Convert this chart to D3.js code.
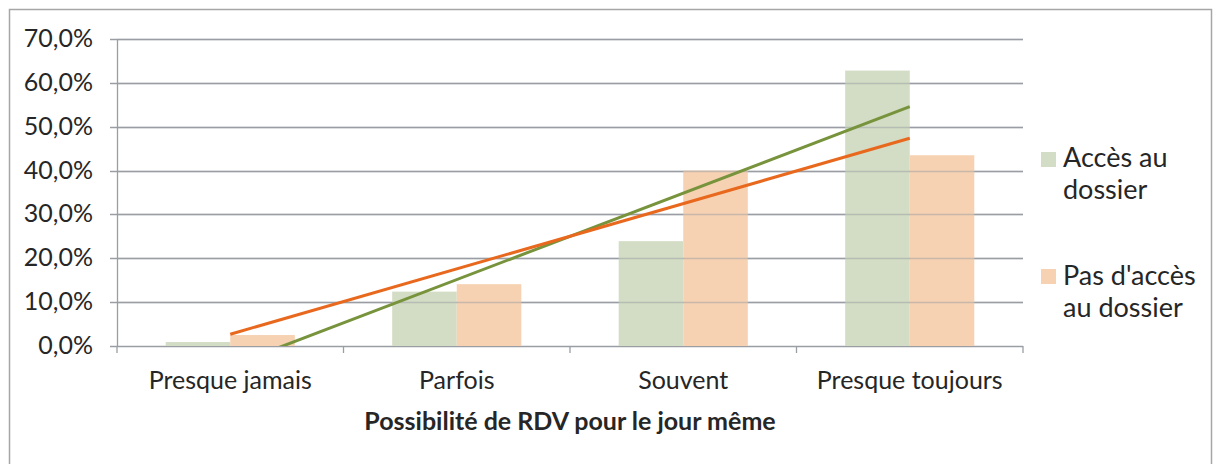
<!DOCTYPE html>
<html><head><meta charset="utf-8">
<script src="https://cdn.jsdelivr.net/npm/d3@7"></script>
<style>body{margin:0;background:#fff}svg{display:block}text{font-family:Lato,sans-serif;fill:#262626}</style>
</head><body><svg id="c" width="1215" height="464"></svg>
<script>
const categories = ["Presque jamais","Parfois","Souvent","Presque toujours"];
const seriesNames = [["Accès au","dossier"],["Pas d'accès","au dossier"]];
const acces = [0.9, 12.4, 23.9, 62.8];
const pasAcces = [2.5, 14.1, 40.0, 43.5];
const yTicks = [0,10,20,30,40,50,60,70];
const xTitle = "Possibilité de RDV pour le jour même";

const colors = ["#d3dcc4", "#f6d2b2"];
const trendColors = ["#77933c", "#e8681e"];
const svg = d3.select("#c");
svg.append("rect").attr("x",9.5).attr("y",9.5).attr("width",1202).attr("height",470)
  .attr("fill","none").attr("stroke","#a6a6a6").attr("stroke-width",1.5);

const L=117, R=1023, T=39, B=346;
const x = d3.scaleBand().domain(categories).range([L,R]).paddingInner(0).paddingOuter(0);
const y = d3.scaleLinear().domain([0,70]).range([B,T]);
const bw = x.bandwidth()*0.285;

svg.append("g").selectAll("line").data(yTicks).join("line")
  .attr("x1",L-7).attr("x2",R).attr("y1",d=>Math.round(y(d))+0.5).attr("y2",d=>Math.round(y(d))+0.5)
  .attr("stroke","#9a9ea4").attr("stroke-width",1.3);
svg.append("line").attr("x1",L+0.5).attr("x2",L+0.5).attr("y1",T).attr("y2",B).attr("stroke","#9a9ea4").attr("stroke-width",1.3);
svg.append("g").selectAll("line").data(d3.range(categories.length+1)).join("line")
  .attr("x1",i=>L+i*x.bandwidth()).attr("x2",i=>L+i*x.bandwidth()).attr("y1",B).attr("y2",B+7)
  .attr("stroke","#9a9ea4").attr("stroke-width",1.3);
svg.append("g").selectAll("text").data(yTicks).join("text")
  .attr("x",93).attr("y",d=>y(d)+8).attr("text-anchor","end").attr("font-size",25)
  .text(d=>d.toFixed(1).replace(".",",")+"%");

const series=[acces,pasAcces];
series.forEach((s,si)=>{
  svg.append("g").selectAll("rect").data(s).join("rect")
    .attr("x",(d,i)=>x(categories[i])+x.bandwidth()/2 - bw + si*bw)
    .attr("width",bw).attr("y",d=>y(d)).attr("height",d=>B-y(d)).attr("fill",colors[si]);
});
svg.append("g").selectAll("line").data(yTicks.slice(1)).join("line")
  .attr("x1",L).attr("x2",R).attr("y1",d=>Math.round(y(d))+0.5).attr("y2",d=>Math.round(y(d))+0.5)
  .attr("stroke","#9a9ea4").attr("stroke-opacity",0.5).attr("stroke-width",1.3);

svg.append("clipPath").attr("id","clip").append("rect").attr("x",L).attr("y",T).attr("width",R-L).attr("height",B-T);
series.forEach((s,si)=>{
  const n=s.length, xs=d3.range(1,n+1);
  const mx=d3.mean(xs), my=d3.mean(s);
  const slope=d3.sum(xs.map((xv,i)=>(xv-mx)*(s[i]-my)))/d3.sum(xs.map(xv=>(xv-mx)**2));
  const icpt=my-slope*mx;
  const px=k=>x(categories[0])+x.bandwidth()/2+(k-1)*x.bandwidth();
  svg.append("line").attr("clip-path","url(#clip)")
    .attr("x1",px(1)).attr("y1",y(icpt+slope)).attr("x2",px(n)).attr("y2",y(icpt+slope*n))
    .attr("stroke",trendColors[si]).attr("stroke-width",3);
});

svg.append("g").selectAll("text").data(categories).join("text")
  .attr("x",d=>x(d)+x.bandwidth()/2).attr("y",389).attr("text-anchor","middle").attr("font-size",25).text(d=>d);
svg.append("text").attr("x",570).attr("y",430).attr("text-anchor","middle").attr("font-size",25)
  .attr("font-weight","bold").text(xTitle);

const lg=svg.append("g");
[[152,167],[269,285]].forEach(([ry,ty],i)=>{
  lg.append("rect").attr("x",1041).attr("y",ry).attr("width",15).attr("height",15).attr("fill",colors[i]);
  seriesNames[i].forEach((t,j)=>lg.append("text").attr("x",1063).attr("y",ty+j*31.5).attr("font-size",27).text(t));
});
</script></body></html>
